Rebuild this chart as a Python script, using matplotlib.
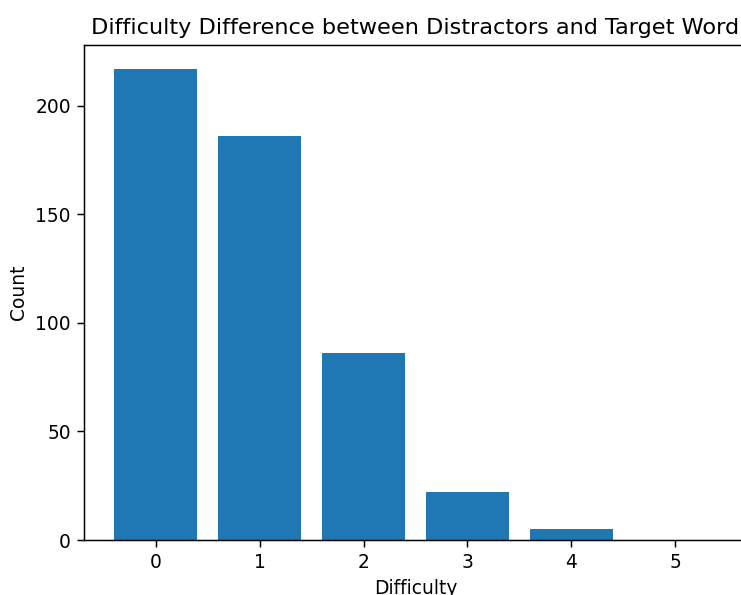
import matplotlib
matplotlib.use('Agg')
import matplotlib.pyplot as plt

# Разница сложности
difficulty = [0, 1, 2, 3, 4, 5]
counts = [217, 186, 86, 22, 5, 0]

dpi = 134
fig = plt.figure(figsize=(741 / dpi, 595 / dpi), dpi=dpi)
# оси чуть шире картинки: правый край обрезан, как в оригинале
ax = fig.add_axes([84 / 741, 55 / 595, 663 / 741, 495 / 595])

ax.bar(difficulty, counts, color='#1f77b4')
ax.set_title('Difficulty Difference between Distractors and Target Word')
ax.set_xlabel('Difficulty')
ax.set_ylabel('Count')

fig.savefig('out.png', dpi=dpi)
